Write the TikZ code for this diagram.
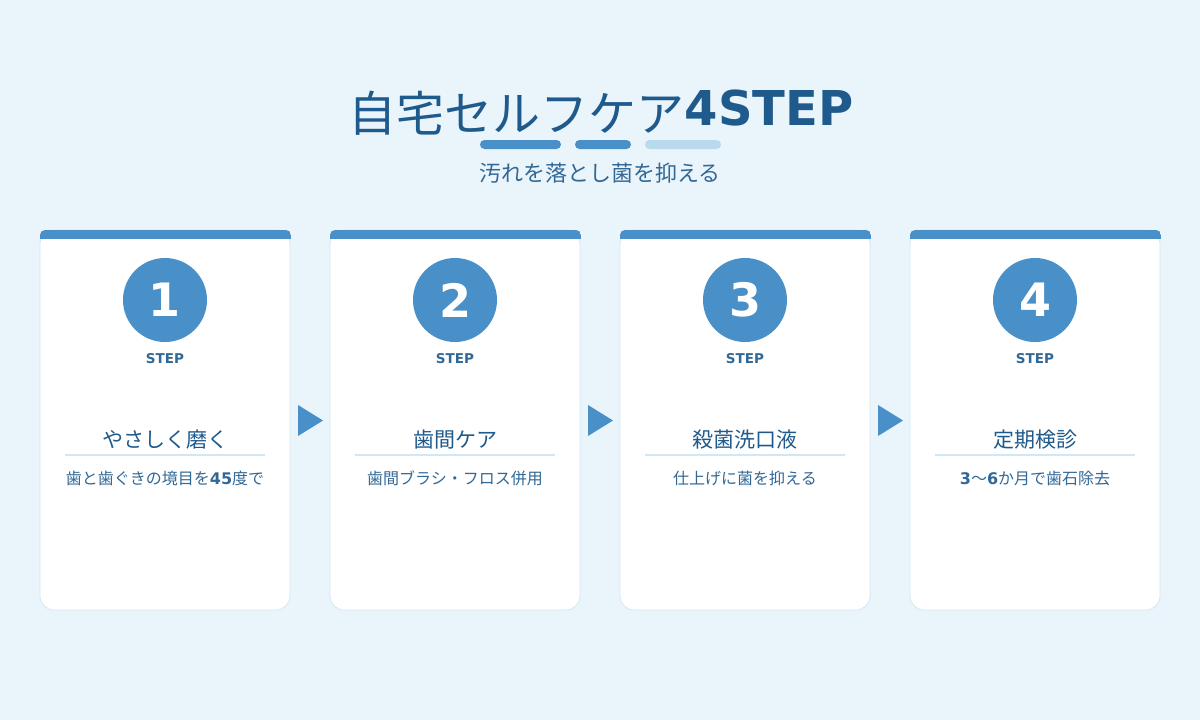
\documentclass[tikz,border=0pt]{standalone}
\usepackage{fontspec}
\setmainfont{Noto Sans CJK JP}
\newfontfamily\dvsans{DejaVu Sans}
\usetikzlibrary{positioning}

\definecolor{bgblue}{RGB}{234,244,251}
\definecolor{mainblue}{RGB}{74,144,200}
\definecolor{paleblue}{RGB}{185,217,236}
\definecolor{titleblue}{RGB}{31,90,140}
\definecolor{textblue}{RGB}{50,104,150}
\definecolor{cardline}{RGB}{210,230,244}

\newcommand{\latinb}[1]{{\dvsans\bfseries #1}}

\tikzset{every picture/.style={line width=0.75pt},
  card/.style={draw=cardline, fill=white, rounded corners=14pt, minimum width=250pt, minimum height=380pt, inner sep=0pt},
  stepcircle/.style={circle, fill=mainblue, minimum size=84pt, inner sep=0pt, text=white, font=\dvsans\bfseries\fontsize{46}{46}\selectfont},
  steplabel/.style={anchor=base, inner sep=0.75pt, text=textblue, font=\dvsans\bfseries\fontsize{13.5}{13.5}\selectfont},
  stephead/.style={anchor=base, inner sep=0.75pt, text=titleblue, font=\fontsize{21}{21}\selectfont},
  stepdesc/.style={anchor=base, inner sep=0.75pt, text=textblue, font=\fontsize{16}{16}\selectfont},
  headrule/.style={draw=cardline, line width=2pt},
  nextarrow/.style={fill=mainblue}
}

\begin{document}
\begin{tikzpicture}[x=1pt,y=1pt,yscale=-1,xscale=1]
%Background
\fill [bgblue] (0,0) rectangle (1200,720) ;
\useasboundingbox (0,0) rectangle (1200,720) ;

% Text Node
\draw (601,131.5) node (title) [anchor=base][inner sep=0.75pt] [font=\fontsize{48}{48}\selectfont, text=titleblue] {自宅セルフケア\raisebox{6.5pt}{\latinb{4STEP}}};
%Shape: Bars under title
\fill [mainblue, rounded corners=4.5pt] (480,140) rectangle (561,149) ;
\fill [mainblue, rounded corners=4.5pt] (575,140) rectangle (631,149) ;
\fill [paleblue, rounded corners=4.5pt] (645,140) rectangle (721,149) ;
% Text Node
\draw (600,181) node (subtitle) [anchor=base][inner sep=0.75pt] [font=\fontsize{22}{22}\selectfont, text=textblue] {汚れを落とし菌を抑える};

%Shape: Card 1
\node (card1) [card] at (165,420) {};
\begin{scope}
\clip [rounded corners=5pt] (40,230) rectangle (291,260) ;
\fill [mainblue] (40,230) rectangle (291,239) ;
\end{scope}
\node (num1) [stepcircle] at (165,300) {1};
\draw (165,363) node (lab1) [steplabel] {STEP};
\draw (165,447) node (head1) [stephead] {やさしく磨く};
\draw [headrule] (65,455) -- (265,455) ;
\draw (165,484) node (desc1) [stepdesc] {歯と歯ぐきの境目を\latinb{45}度で};

%Shape: Triangle
\fill [nextarrow] (298,405) -- (323,420.5) -- (298,436) -- cycle ;

%Shape: Card 2
\node (card2) [card] at (455,420) {};
\begin{scope}
\clip [rounded corners=5pt] (330,230) rectangle (581,260) ;
\fill [mainblue] (330,230) rectangle (581,239) ;
\end{scope}
\node (num2) [stepcircle] at (455,300) {2};
\draw (455,363) node (lab2) [steplabel] {STEP};
\draw (455,447) node (head2) [stephead] {歯間ケア};
\draw [headrule] (355,455) -- (555,455) ;
\draw (455,484) node (desc2) [stepdesc] {歯間ブラシ・フロス併用};

%Shape: Triangle
\fill [nextarrow] (588,405) -- (613,420.5) -- (588,436) -- cycle ;

%Shape: Card 3
\node (card3) [card] at (745,420) {};
\begin{scope}
\clip [rounded corners=5pt] (620,230) rectangle (871,260) ;
\fill [mainblue] (620,230) rectangle (871,239) ;
\end{scope}
\node (num3) [stepcircle] at (745,300) {3};
\draw (745,363) node (lab3) [steplabel] {STEP};
\draw (745,447) node (head3) [stephead] {殺菌洗口液};
\draw [headrule] (645,455) -- (845,455) ;
\draw (745,484) node (desc3) [stepdesc] {仕上げに菌を抑える};

%Shape: Triangle
\fill [nextarrow] (878,405) -- (903,420.5) -- (878,436) -- cycle ;

%Shape: Card 4
\node (card4) [card] at (1035,420) {};
\begin{scope}
\clip [rounded corners=5pt] (910,230) rectangle (1161,260) ;
\fill [mainblue] (910,230) rectangle (1161,239) ;
\end{scope}
\node (num4) [stepcircle] at (1035,300) {4};
\draw (1035,363) node (lab4) [steplabel] {STEP};
\draw (1035,447) node (head4) [stephead] {定期検診};
\draw [headrule] (935,455) -- (1135,455) ;
\draw (1035,484) node (desc4) [stepdesc] {\latinb{3}〜\latinb{6}か月で歯石除去};

\end{tikzpicture}
\end{document}
